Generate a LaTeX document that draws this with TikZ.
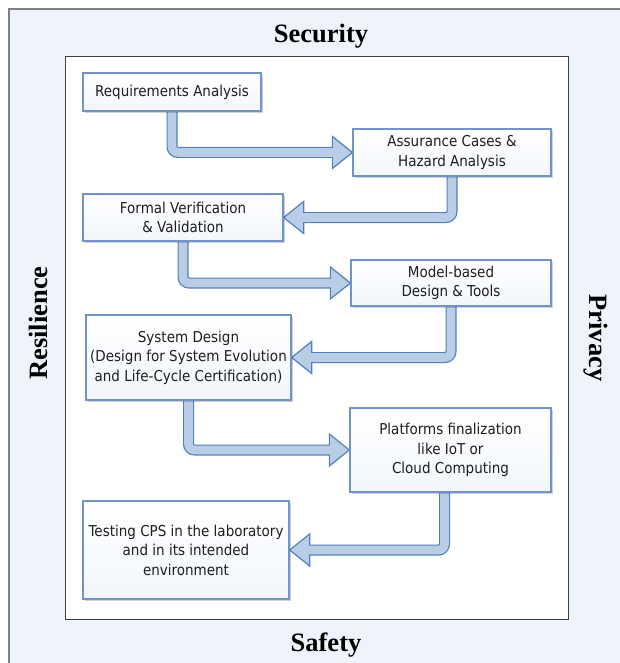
\documentclass[tikz,border=0pt]{standalone}
\usepackage{fontspec}
\newfontfamily\boxfont[FakeStretch=0.9]{DejaVu Sans}
\newfontfamily\titlefont{Liberation Serif}
\usetikzlibrary{calc,shadows}
\pgfdeclarelayer{background}
\pgfsetlayers{background,main}

\definecolor{paneblue}{RGB}{239,244,252}
\definecolor{framegray}{RGB}{128,128,128}
\definecolor{innergray}{RGB}{64,64,64}
\definecolor{boxline}{RGB}{112,148,202}
\definecolor{boxfill}{RGB}{242,246,252}
\definecolor{arrline}{RGB}{79,129,189}
\definecolor{arrfill}{RGB}{185,205,229}
\definecolor{boxtext}{RGB}{30,30,30}

\tikzset{
  stepbox/.style={draw=boxline, line width=1.3pt, top color=white, bottom color=boxfill,
    align=center, inner sep=2pt, text=boxtext,
    font=\boxfont\fontsize{15}{19.5}\selectfont,
    drop shadow={shadow xshift=2pt, shadow yshift=-2pt, fill=black, opacity=0.18}},
  pillar/.style={font=\titlefont\bfseries\fontsize{26.5}{30}\selectfont, text=black, inner sep=0pt},
  arrowedge/.style={draw=arrline, line width=11pt, rounded corners=6pt},
  arrowbody/.style={draw=arrfill, line width=8.6pt, rounded corners=6pt},
  arrowtip/.style={fill=arrfill, draw=arrline, line width=1.2pt, line join=miter},
}

% Block arrow: down from the first anchor, then sideways into the second one
\newcommand\flowarrow[2]{%
  \coordinate (fa-s) at (#1);
  \coordinate (fa-t) at (#2);
  \coordinate (fa-b) at ($(fa-t)!20pt!(fa-s |- fa-t)$);
  \draw[arrowedge] (fa-s) |- (fa-b);
  \filldraw[arrowtip] ($(fa-b)+(0,16)$) -- (fa-t) -- ($(fa-b)+(0,-16)$) -- cycle;
  \draw[arrowbody] (fa-s) |- ($(fa-b)!1.5pt!(fa-t)$);
}

\begin{document}
\begin{tikzpicture}[x=1pt, y=-1pt]
\useasboundingbox (0,0) rectangle (619,663);

% process steps
\node[stepbox, minimum width=178pt, minimum height=38pt] (req)  at (172,92)    {Requirements Analysis};
\node[stepbox, minimum width=198pt, minimum height=47pt] (haz)  at (452,152.5) {Assurance Cases \&\\Hazard Analysis};
\node[stepbox, minimum width=200pt, minimum height=47pt] (ver)  at (183,217.5) {Formal Verification\\\& Validation};
\node[stepbox, minimum width=200pt, minimum height=46pt] (mbd)  at (451,283)   {Model-based\\Design \& Tools};
\node[stepbox, minimum width=205pt, minimum height=85pt] (sys)  at (188.5,357.5) {System Design\\(Design for System Evolution\\and Life-Cycle Certification)};
\node[stepbox, minimum width=201pt, minimum height=84pt] (plat) at (450.5,450) {Platforms finalization\\like IoT or\\Cloud Computing};
\node[stepbox, minimum width=206pt, minimum height=98pt] (test) at (186,550)   {Testing CPS in the laboratory\\and in its intended\\environment};

% the four concerns around the process
\node[pillar, anchor=base] (security) at (321,43) {Security};
\node[pillar, anchor=base] (safety) at (326,651) {Safety};
\node[pillar, rotate=90] (resilience) at (38,323) {Resilience};
\node[pillar, rotate=-90] (privacy) at (596,338) {Privacy};

\begin{pgfonlayer}{background}
  \fill[white] (0,0) rectangle (619,663);
  \filldraw[fill=paneblue, draw=framegray, line width=1.2pt] (9,9) rectangle (640,690);
  \filldraw[fill=white, draw=innergray, line width=1pt] (65,57) rectangle (568,619);

  \flowarrow{[yshift=4pt]req.south}{haz.west}
  \flowarrow{[yshift=4pt]haz.south}{ver.east}
  \flowarrow{[yshift=4pt]ver.south}{mbd.west}
  \flowarrow{[yshift=4pt]mbd.south}{sys.east}
  \flowarrow{[yshift=4pt]sys.south}{plat.west}
  \flowarrow{[xshift=-6pt,yshift=4pt]plat.south}{test.east}
\end{pgfonlayer}
\end{tikzpicture}
\end{document}
